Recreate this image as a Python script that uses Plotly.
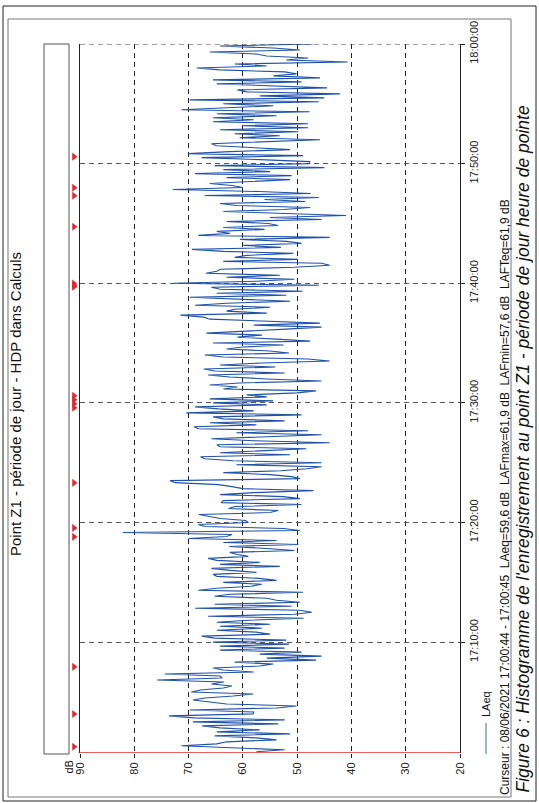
import plotly.graph_objects as go
import pandas as pd

DAY = "2021-06-08"
END = pd.Timestamp(f"{DAY} 18:00:00")
START = pd.Timestamp(f"{DAY} 17:00:44")
STEP_S = 10  # one reading every 10 s, read from the top (18:00:00) downwards

# LAeq (dB), each block read from its later time downwards
laeq_1800_1750 = [47.1, 64.2, 54.4, 49.5, 66.1, 57.5, 55.6, 48.0, 52.0, 40.7,
                  61.5, 55.6, 68.5, 64.2, 52.3, 50.1, 54.4, 45.8, 65.5, 49.2,
                  64.8, 55.6, 44.5, 61.0, 59.3, 42.1, 56.9, 45.0, 69.8, 46.0,
                  63.6, 54.4, 62.4, 71.3, 47.7, 64.8, 53.8, 65.5, 58.0, 65.5,
                  48.0, 60.0, 48.0, 64.2, 49.8, 61.5, 53.2, 60.6, 45.8, 56.9,
                  65.8, 64.8, 58.0, 51.3, 62.4, 70.1, 48.9, 67.6, 56.9, 47.7]
laeq_1750_1740 = [47.7, 65.2, 45.0, 63.6, 55.0, 68.8, 51.0, 63.0, 51.3, 59.0,
                  66.1, 62.0, 60.0, 72.9, 57.0, 47.5, 67.0, 46.0, 56.0, 48.5,
                  64.2, 61.2, 47.6, 52.5, 63.6, 52.0, 41.0, 55.0, 45.5, 63.0,
                  55.3, 53.5, 63.6, 56.0, 64.8, 62.4, 68.2, 44.0, 60.5, 52.0,
                  49.2, 59.9, 53.0, 69.4, 63.6, 50.7, 59.3, 61.5, 49.8, 63.6,
                  45.5, 44.0, 50.5, 64.2, 64.8, 66.8, 53.2, 63.0, 50.5, 57.5]
laeq_1740_1730 = [72.8, 46.0, 65.8, 64.2, 49.0, 64.8, 52.0, 69.8, 60.0, 51.3,
                  63.0, 68.8, 55.0, 61.5, 63.0, 55.6, 71.5, 67.2, 66.1, 54.0,
                  45.8, 58.0, 45.5, 52.0, 59.0, 66.7, 56.5, 61.0, 53.8, 47.6,
                  65.5, 52.5, 60.0, 63.0, 55.0, 51.5, 67.0, 63.6, 48.0, 44.0,
                  56.5, 64.2, 54.0, 67.2, 65.2, 52.3, 66.4, 62.4, 55.6, 45.5,
                  60.6, 66.1, 61.0, 63.6, 46.5, 50.0, 59.3, 55.6, 66.1, 54.4]
laeq_1730_1720 = [65.5, 55.6, 68.8, 64.5, 58.0, 70.4, 49.2, 65.5, 63.6, 52.3,
                  66.1, 57.5, 69.0, 68.2, 48.0, 61.2, 45.5, 56.5, 65.8, 58.0,
                  44.0, 64.8, 64.2, 48.3, 57.5, 64.2, 51.3, 67.8, 67.0, 61.8,
                  45.5, 61.2, 45.5, 48.2, 53.0, 63.6, 55.0, 51.0, 49.5, 73.4,
                  72.5, 64.5, 62.0, 60.0, 47.0, 58.0, 64.2, 52.5, 49.5, 63.6,
                  64.0, 49.2, 61.5, 62.6, 53.5, 55.0, 68.1, 66.0, 64.2, 59.5]
laeq_1720_1710 = [59.0, 68.2, 67.0, 52.5, 49.5, 82.1, 62.0, 63.0, 70.0, 53.8,
                  63.6, 49.8, 62.5, 55.6, 50.5, 62.4, 61.0, 59.0, 66.4, 64.8,
                  56.9, 64.2, 53.2, 65.8, 62.4, 57.5, 65.5, 64.8, 57.0, 53.8,
                  63.6, 56.5, 58.5, 64.8, 68.2, 48.9, 62.4, 65.2, 55.6, 53.8,
                  49.5, 65.2, 51.0, 68.8, 49.5, 47.3, 50.5, 66.4, 48.8, 59.0,
                  64.8, 55.0, 64.2, 56.5, 64.8, 57.5, 55.0, 67.6, 65.2, 52.0]
laeq_1710_1700 = [65.5, 51.5, 64.2, 52.3, 64.2, 49.2, 56.9, 45.5, 55.6, 46.5,
                  61.5, 54.4, 56.9, 65.5, 63.6, 58.0, 74.4, 64.2, 63.8, 75.8,
                  63.5, 65.8, 62.0, 63.6, 67.8, 69.5, 58.1, 61.8, 67.0, 69.2,
                  65.5, 63.0, 50.1, 53.8, 69.8, 58.0, 58.1, 73.6, 69.0, 52.3,
                  69.2, 53.5, 67.5, 64.2, 56.9, 64.8, 51.3, 65.2, 57.5, 53.8,
                  63.0, 64.8, 71.3, 59.9, 52.3, 57.5]

laeq = (laeq_1800_1750 + laeq_1750_1740 + laeq_1740_1730 +
        laeq_1730_1720 + laeq_1720_1710 + laeq_1710_1700)
times = [END - pd.Timedelta(seconds=STEP_S * i) for i in range(len(laeq))]

# event markers (red triangles in the strip left of the chart)
event_times = ["17:50:35", "17:47:59", "17:47:19", "17:44:43", "17:39:58",
               "17:39:48", "17:39:43", "17:30:36", "17:30:16", "17:29:56",
               "17:29:36", "17:23:19", "17:19:33", "17:18:48", "17:07:56",
               "17:04:00", "17:01:15"]

db_ticks = [90, 80, 70, 60, 50, 40, 30, 20]
time_ticks = ["17:10:00", "17:20:00", "17:30:00", "17:40:00", "17:50:00", "18:00:00"]

FONT = "Liberation Sans, Arial, sans-serif"
BLUE = "#2152a6"
W, H = 539, 803

def px(x):
    return x / W
def py(y):
    return (H - y) / H

PL, PR, PT, PB = 80, 460, 44, 753

fig = go.Figure()
fig.add_trace(go.Scatter(x=laeq, y=times, mode="lines", xaxis="x", yaxis="y",
                         line=dict(color=BLUE, width=1.1), hoverinfo="skip"))
fig.add_trace(go.Scatter(x=[0.5] * len(event_times),
                         y=[f"{DAY} {t}" for t in event_times],
                         xaxis="x2", yaxis="y2",
                         mode="markers", cliponaxis=False,
                         marker=dict(symbol="triangle-right", size=7, color="#e8262c",
                                     line=dict(width=0))))

shapes = [
    dict(type="rect", xref="paper", yref="paper", x0=px(3), x1=px(536), y0=py(801), y1=py(6),
         line=dict(color="#222", width=1)),
    dict(type="rect", xref="paper", yref="paper", x0=px(8), x1=px(511), y0=py(797), y1=py(19),
         line=dict(color="#777", width=1)),
    dict(type="rect", xref="paper", yref="paper", x0=px(44), x1=px(69), y0=py(754), y1=py(44),
         line=dict(color="#555", width=1)),
    dict(type="line", xref="x", yref="y", x0=90, x1=20, y0=str(END), y1=str(END),
         line=dict(color="#444", width=1, dash="5px,4px")),
    dict(type="line", xref="x", yref="y", x0=90, x1=20, y0=str(START), y1=str(START),
         line=dict(color="#e02a2a", width=1.6)),
    dict(type="line", xref="paper", yref="paper", x0=px(486), x1=px(486), y0=py(754), y1=py(723),
         line=dict(color="#5b7fc7", width=1.2)),
]

annotations = [
    dict(text="Point Z1 - période de jour - HDP dans Calculs", xref="paper", yref="paper",
         x=px(15), y=py(404), textangle=-90, showarrow=False, xanchor="center", yanchor="middle",
         font=dict(family=FONT, size=15, color="#111")),
    dict(text="dB", xref="paper", yref="paper", x=px(76), y=py(759), textangle=-90,
         showarrow=False, xanchor="right", yanchor="top", font=dict(family=FONT, size=11, color="#111")),
    dict(text="LAeq", xref="paper", yref="paper", x=px(486), y=py(719), textangle=-90,
         showarrow=False, xanchor="center", yanchor="bottom", font=dict(family=FONT, size=11, color="#111")),
    dict(text="Curseur : 08/06/2021 17:00:44 - 17:00:45  LAeq=59,6 dB  LAFmax=61,9 dB  "
              "LAFmin=57,6 dB  LAFTeq=61,9 dB",
         xref="paper", yref="paper", x=px(505), y=py(797), textangle=-90, showarrow=False,
         xanchor="center", yanchor="bottom", font=dict(family=FONT, size=12, color="#111")),
    dict(text="<i>Figure 6 : Histogramme de l'enregistrement au point Z1 - période de jour heure de pointe</i>",
         xref="paper", yref="paper", x=px(522), y=py(795), textangle=-90, showarrow=False,
         xanchor="center", yanchor="bottom", font=dict(family=FONT, size=17.5, color="#111")),
]

y_range = [str(START), str(END)]
y_domain = [py(PB), py(PT)]

fig.update_layout(
    width=W, height=H, autosize=False,
    margin=dict(l=0, r=0, t=0, b=0, pad=0, autoexpand=False),
    paper_bgcolor="white", plot_bgcolor="white",
    showlegend=False,
    shapes=shapes, annotations=annotations,
    xaxis=dict(domain=[px(PL), px(PR)], anchor="y", automargin=False,
               range=[90, 20], tickvals=db_ticks, ticktext=[str(v) for v in db_ticks],
               tickangle=-90, ticks="outside", ticklen=4, tickcolor="#222",
               showgrid=True, gridcolor="#222", gridwidth=1, griddash="5px,4px",
               showline=False, zeroline=False,
               tickfont=dict(family=FONT, size=11, color="#222")),
    yaxis=dict(domain=y_domain, anchor="x", type="date", range=y_range, side="right",
               automargin=False,
               tickvals=[f"{DAY} {t}" for t in time_ticks], ticktext=time_ticks,
               tickangle=-90, ticks="outside", ticklen=4, tickcolor="#222",
               showgrid=True, gridcolor="#555", gridwidth=1, griddash="5px,4px",
               showline=True, linecolor="#222", linewidth=1.2, mirror=True,
               zeroline=False,
               tickfont=dict(family=FONT, size=11, color="#222")),
    xaxis2=dict(domain=[px(69), px(79)], anchor="y2", range=[0, 1], visible=False,
                automargin=False),
    yaxis2=dict(domain=y_domain, anchor="x2", type="date", range=y_range, visible=False,
                showgrid=False, automargin=False),
)

fig.write_html("out.html")
